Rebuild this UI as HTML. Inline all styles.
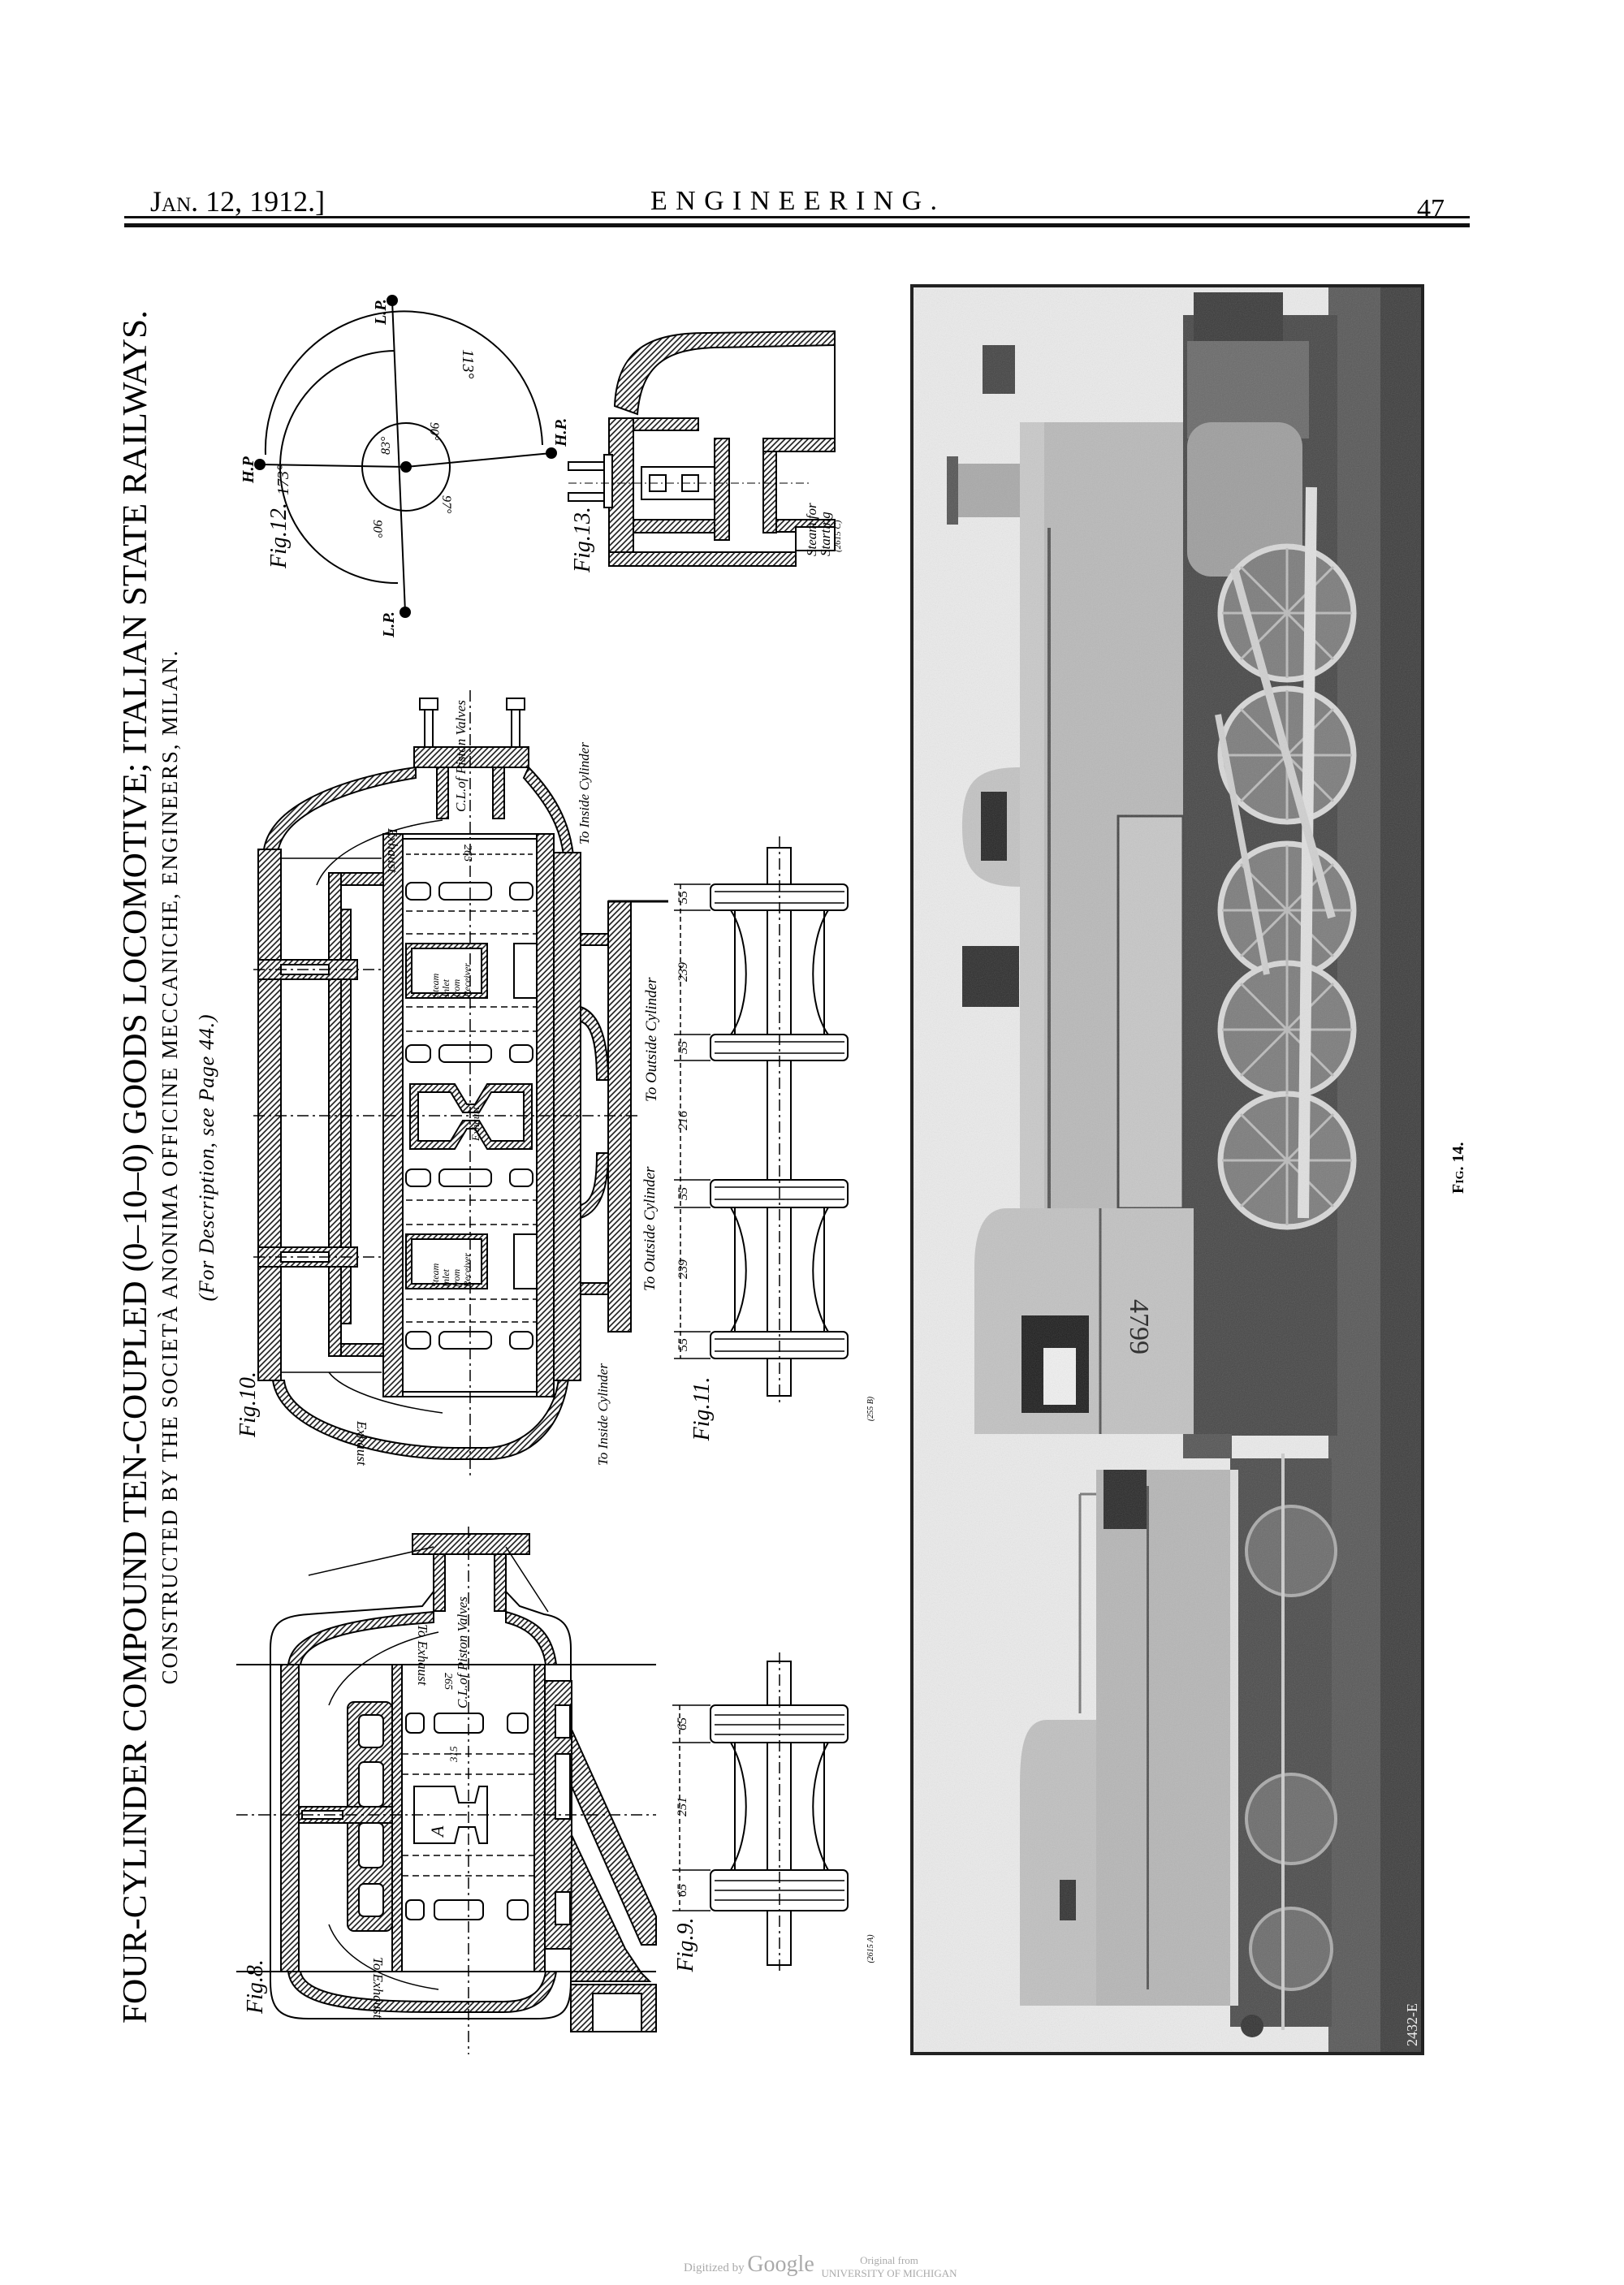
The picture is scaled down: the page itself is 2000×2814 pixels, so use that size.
<!DOCTYPE html>
<html><head><meta charset="utf-8"><style>
html,body{margin:0;padding:0;background:#fff}
svg{display:block}
text{font-family:"Liberation Serif",serif}
.it{font-style:italic}
</style></head><body>
<svg width="2000" height="2814" viewBox="0 0 2000 2814" xmlns="http://www.w3.org/2000/svg">
<defs>
<pattern id="h" width="5" height="5" patternUnits="userSpaceOnUse" patternTransform="rotate(45)">
<rect width="5" height="5" fill="#fff"/><line x1="1" y1="0" x2="1" y2="5" stroke="#111" stroke-width="1.6"/></pattern>
<filter id="n" x="0" y="0" width="100%" height="100%"><feTurbulence type="fractalNoise" baseFrequency="0.9" numOctaves="2" seed="3"/><feColorMatrix type="saturate" values="0"/><feComponentTransfer><feFuncA type="linear" slope="0.22"/></feComponentTransfer></filter>
<clipPath id="pc"><rect x="1123" y="352" width="629" height="2177"/></clipPath>
</defs>

<!-- Header -->
<text x="185" y="260" font-size="36" style="font-variant:small-caps">Jan. 12, 1912.]</text>
<text x="801" y="258" font-size="34" textLength="353" lengthAdjust="spacing">ENGINEERING.</text>
<text x="1745" y="268" font-size="34">47</text>
<rect x="153" y="266" width="1657" height="3" fill="#111"/>
<rect x="153" y="275" width="1657" height="5" fill="#111"/>

<!-- Title block (rotated) -->
<text transform="translate(180,1437) rotate(-90)" font-size="42" text-anchor="middle" textLength="2110" lengthAdjust="spacingAndGlyphs">FOUR-CYLINDER   COMPOUND   TEN-COUPLED   (0–10–0)   GOODS   LOCOMOTIVE;   ITALIAN   STATE   RAILWAYS.</text>
<text transform="translate(218,1438) rotate(-90)" font-size="27" text-anchor="middle" textLength="1273" lengthAdjust="spacing">CONSTRUCTED BY THE SOCIETÀ ANONIMA OFFICINE MECCANICHE, ENGINEERS, MILAN.</text>
<text class="it" transform="translate(263,1426) rotate(-90)" font-size="26" text-anchor="middle" textLength="353" lengthAdjust="spacing">(For Description, see Page 44.)</text>

<!-- Fig 12 -->
<g stroke="#000" fill="none" stroke-width="2">
<circle cx="500" cy="575" r="54"/>
<line x1="483" y1="370" x2="499" y2="754"/>
<line x1="320" y1="572" x2="500" y2="575"/>
<line x1="500" y1="575" x2="679" y2="558"/>
<path d="M327,560 A170,170 0 0 1 668,548"/>
<path d="M486,432 A143,143 0 0 0 490,718"/>
</g>
<g fill="#000"><circle cx="500" cy="575" r="7"/><circle cx="483" cy="370" r="7"/><circle cx="320" cy="572" r="7"/><circle cx="679" cy="558" r="7"/><circle cx="499" cy="754" r="7"/></g>
<g font-size="20" class="it">
<text transform="translate(475,400) rotate(-90)" font-weight="bold">L.P.</text>
<text transform="translate(697,550) rotate(-90)" font-weight="bold">H.P.</text>
<text transform="translate(312,595) rotate(-90)" font-weight="bold">H.P</text>
<text transform="translate(485,785) rotate(-90)" font-weight="bold">L.P.</text>
<text transform="translate(570,430) rotate(90)">113°</text>
<text transform="translate(355,610) rotate(-90)">173°</text>
<text transform="translate(480,560) rotate(-90)" font-size="16">83°</text>
<text transform="translate(530,520) rotate(90)" font-size="16">90°</text>
<text transform="translate(460,640) rotate(90)" font-size="16">90°</text>
<text transform="translate(545,610) rotate(90)" font-size="16">97°</text>
<text transform="translate(352,700) rotate(-90)" font-size="28">Fig.12.</text>
</g>

<!-- Fig 13 -->
<g stroke="#000" stroke-width="2">
<path d="M757,500 C760,430 800,410 870,410 L1028,408 L1028,425 L880,428 C820,430 790,450 785,510 Z" fill="url(#h)"/>
<line x1="1028" y1="425" x2="1028" y2="540" fill="none"/>
<rect x="750" y="515" width="30" height="182" fill="url(#h)"/>
<rect x="750" y="680" width="230" height="17" fill="url(#h)"/>
<rect x="780" y="515" width="80" height="15" fill="url(#h)"/>
<rect x="880" y="540" width="18" height="125" fill="url(#h)"/>
<rect x="940" y="540" width="88" height="16" fill="url(#h)"/>
<rect x="940" y="556" width="16" height="100" fill="url(#h)"/>
<rect x="780" y="640" width="100" height="16" fill="url(#h)"/>
<rect x="956" y="640" width="72" height="15" fill="url(#h)"/>
<rect x="700" y="569" width="44" height="10" fill="#fff"/>
<rect x="700" y="607" width="44" height="10" fill="#fff"/>
<rect x="744" y="560" width="10" height="65" fill="#fff"/>
<rect x="790" y="575" width="90" height="40" fill="#fff"/>
<rect x="800" y="585" width="20" height="20" fill="#fff"/>
<rect x="840" y="585" width="20" height="20" fill="#fff"/>
<rect x="980" y="649" width="48" height="29" fill="#fff"/>
</g>
<line x1="700" y1="595" x2="1000" y2="595" stroke="#000" stroke-dasharray="10,4,2,4"/>
<g class="it" font-size="17">
<text transform="translate(1005,685) rotate(-90)">Steam for</text>
<text transform="translate(1022,685) rotate(-90)">Starting</text>
<text transform="translate(1035,680) rotate(-90)" font-size="11">(2615 C)</text>
<text transform="translate(726,705) rotate(-90)" font-size="28">Fig.13.</text>
</g>

<!-- Fig 10 -->
<g stroke="#000" stroke-width="2">
<path d="M325,1046 C335,985 440,955 512,945 L512,958 C450,968 350,995 342,1050 Z" fill="url(#h)"/>
<path d="M336,1700 C345,1765 470,1797 559,1797 L604,1797 C650,1795 690,1765 700,1698 L688,1698 C682,1750 640,1782 600,1783 L560,1783 C480,1783 355,1755 350,1700 Z" fill="url(#h)"/>
<path d="M651,945 C690,985 702,1020 706,1053 L694,1053 C690,1022 678,995 645,958 Z" fill="url(#h)"/>
<rect x="510" y="920" width="141" height="25" fill="url(#h)"/>
<rect x="538" y="945" width="14" height="63" fill="url(#h)"/>
<rect x="607" y="945" width="14" height="63" fill="url(#h)"/>
<rect x="523" y="865" width="10" height="55" fill="#fff"/>
<rect x="517" y="860" width="22" height="14" fill="#fff"/>
<rect x="630" y="865" width="10" height="55" fill="#fff"/>
<rect x="624" y="860" width="22" height="14" fill="#fff"/>
<rect x="318" y="1046" width="28" height="654" fill="url(#h)"/>
<rect x="472" y="1027" width="24" height="693" fill="url(#h)"/>
<rect x="661" y="1027" width="21" height="693" fill="url(#h)"/>
<rect x="496" y="1027" width="165" height="6" fill="#fff"/>
<rect x="496" y="1714" width="165" height="6" fill="#fff"/>
<rect x="405" y="1075" width="15" height="595" fill="url(#h)"/>
<rect x="420" y="1075" width="52" height="15" fill="url(#h)"/>
<rect x="420" y="1655" width="52" height="15" fill="url(#h)"/>
<rect x="420" y="1120" width="12" height="510" fill="url(#h)"/>
<rect x="318" y="1182" width="122" height="24" fill="url(#h)"/>
<rect x="318" y="1536" width="122" height="24" fill="url(#h)"/>
<rect x="346" y="1188" width="59" height="12" fill="#fff"/>
<rect x="346" y="1542" width="59" height="12" fill="#fff"/>
<rect x="682" y="1050" width="33" height="650" fill="url(#h)"/>
<rect x="749" y="1110" width="28" height="530" fill="url(#h)"/>
<rect x="715" y="1150" width="34" height="14" fill="url(#h)"/>
<rect x="715" y="1580" width="34" height="14" fill="url(#h)"/>
<path d="M715,1240 C745,1250 749,1300 749,1330 L735,1330 C735,1290 730,1262 715,1258 Z" fill="url(#h)"/>
<path d="M715,1500 C745,1490 749,1450 749,1420 L735,1420 C735,1460 730,1480 715,1484 Z" fill="url(#h)"/>
<rect x="633" y="1162" width="28" height="67" fill="#fff"/>
<rect x="633" y="1520" width="28" height="67" fill="#fff"/>
<rect x="500" y="1162" width="100" height="67" fill="url(#h)"/>
<rect x="507" y="1168" width="86" height="55" fill="#fff"/>
<rect x="500" y="1520" width="100" height="67" fill="url(#h)"/>
<rect x="507" y="1526" width="86" height="55" fill="#fff"/>
<path d="M505,1335 L560,1335 L575,1360 L585,1360 L600,1335 L655,1335 L655,1415 L600,1415 L585,1390 L575,1390 L560,1415 L505,1415 Z" fill="url(#h)"/>
<path d="M515,1345 L555,1345 L570,1370 L590,1370 L605,1345 L645,1345 L645,1405 L605,1405 L590,1380 L570,1380 L555,1405 L515,1405 Z" fill="#fff"/>
<g fill="#fff">
<rect x="500" y="1087" width="30" height="21" rx="7"/><rect x="541" y="1087" width="64" height="21" rx="7"/><rect x="628" y="1087" width="28" height="21" rx="7"/>
<rect x="500" y="1287" width="30" height="21" rx="7"/><rect x="541" y="1287" width="64" height="21" rx="7"/><rect x="628" y="1287" width="28" height="21" rx="7"/>
<rect x="500" y="1440" width="30" height="21" rx="7"/><rect x="541" y="1440" width="64" height="21" rx="7"/><rect x="628" y="1440" width="28" height="21" rx="7"/>
<rect x="500" y="1640" width="30" height="21" rx="7"/><rect x="541" y="1640" width="64" height="21" rx="7"/><rect x="628" y="1640" width="28" height="21" rx="7"/>
</g>
</g>
<g stroke="#000" stroke-width="1.5" fill="none">
<line x1="579" y1="850" x2="579" y2="1820" stroke-dasharray="14,5,3,5"/>
<line x1="312" y1="1374" x2="790" y2="1374" stroke-dasharray="14,5,3,5"/>
<line x1="312" y1="1194" x2="470" y2="1194" stroke-dasharray="14,5,3,5"/>
<line x1="312" y1="1548" x2="470" y2="1548" stroke-dasharray="14,5,3,5"/>
<line x1="500" y1="1122" x2="660" y2="1122" stroke-dasharray="8,5"/>
<line x1="500" y1="1150" x2="660" y2="1150" stroke-dasharray="8,5"/>
<line x1="500" y1="1240" x2="660" y2="1240" stroke-dasharray="8,5"/>
<line x1="500" y1="1270" x2="660" y2="1270" stroke-dasharray="8,5"/>
<line x1="500" y1="1478" x2="660" y2="1478" stroke-dasharray="8,5"/>
<line x1="500" y1="1508" x2="660" y2="1508" stroke-dasharray="8,5"/>
<line x1="500" y1="1600" x2="660" y2="1600" stroke-dasharray="8,5"/>
<line x1="500" y1="1628" x2="660" y2="1628" stroke-dasharray="8,5"/>
<line x1="500" y1="1052" x2="660" y2="1052" stroke-dasharray="6,4"/>
<line x1="749" y1="1110" x2="823" y2="1110" stroke-width="3"/>
<line x1="346" y1="1057" x2="470" y2="1057"/>
<line x1="346" y1="1690" x2="470" y2="1690"/>
<path d="M545,1010 C470,1020 405,1050 390,1090"/>
<path d="M545,1740 C470,1730 420,1710 405,1690"/>
</g>
<g class="it" font-size="17">
<text transform="translate(573,1000) rotate(-90)">C.L.of Piston Valves</text>
<text transform="translate(725,1040) rotate(-90)">To Inside Cylinder</text>
<text transform="translate(808,1357) rotate(-90)" font-size="19">To Outside Cylinder</text>
<text transform="translate(806,1590) rotate(-90)" font-size="19">To Outside Cylinder</text>
<text transform="translate(748,1805) rotate(-90)">To Inside Cylinder</text>
<text transform="translate(478,1020) rotate(90)">Exhaust</text>
<text transform="translate(440,1750) rotate(90)">Exhaust</text>
<text transform="translate(572,1040) rotate(90)" font-size="14">265</text>
<text transform="translate(540,1228) rotate(-90)" font-size="12">Steam</text>
<text transform="translate(553,1228) rotate(-90)" font-size="12">Inlet</text>
<text transform="translate(566,1228) rotate(-90)" font-size="12">from</text>
<text transform="translate(579,1228) rotate(-90)" font-size="12">Receiver</text>
<text transform="translate(540,1585) rotate(-90)" font-size="12">Steam</text>
<text transform="translate(553,1585) rotate(-90)" font-size="12">Inlet</text>
<text transform="translate(566,1585) rotate(-90)" font-size="12">from</text>
<text transform="translate(579,1585) rotate(-90)" font-size="12">Receiver</text>
<text transform="translate(590,1405) rotate(-90)" font-size="13">Exhaust</text>
<text transform="translate(314,1770) rotate(-90)" font-size="28">Fig.10.</text>
</g>

<!-- Fig 11 -->
<g stroke="#000" stroke-width="2" fill="#fff">
<rect x="945" y="1044" width="29" height="675"/>
<path d="M900,1121 C925,1160 925,1240 900,1274 M1020,1121 C995,1160 995,1240 1020,1274" fill="none"/>
<path d="M900,1487 C925,1530 925,1600 900,1640 M1020,1487 C995,1530 995,1600 1020,1640" fill="none"/>
<line x1="905" y1="1121" x2="905" y2="1274"/><line x1="1015" y1="1121" x2="1015" y2="1274"/>
<line x1="905" y1="1487" x2="905" y2="1640"/><line x1="1015" y1="1487" x2="1015" y2="1640"/>
<rect x="875" y="1089" width="169" height="32" rx="6"/><rect x="875" y="1274" width="169" height="32" rx="6"/>
<rect x="875" y="1453" width="169" height="34" rx="6"/><rect x="875" y="1640" width="169" height="33" rx="6"/>
</g>
<g stroke="#000" stroke-width="1.5">
<line x1="880" y1="1098" x2="1040" y2="1098"/><line x1="880" y1="1112" x2="1040" y2="1112"/>
<line x1="880" y1="1283" x2="1040" y2="1283"/><line x1="880" y1="1297" x2="1040" y2="1297"/>
<line x1="880" y1="1462" x2="1040" y2="1462"/><line x1="880" y1="1477" x2="1040" y2="1477"/>
<line x1="880" y1="1649" x2="1040" y2="1649"/><line x1="880" y1="1664" x2="1040" y2="1664"/>
<line x1="838" y1="1089" x2="838" y2="1673" stroke-dasharray="6,4"/>
<line x1="830" y1="1089" x2="875" y2="1089"/><line x1="830" y1="1121" x2="875" y2="1121"/>
<line x1="830" y1="1274" x2="875" y2="1274"/><line x1="830" y1="1306" x2="875" y2="1306"/>
<line x1="830" y1="1453" x2="875" y2="1453"/><line x1="830" y1="1487" x2="875" y2="1487"/>
<line x1="830" y1="1640" x2="875" y2="1640"/><line x1="830" y1="1673" x2="875" y2="1673"/>
<line x1="960" y1="1030" x2="960" y2="1730" stroke-dasharray="14,5,3,5"/>
</g>
<g class="it" font-size="16" text-anchor="middle">
<text transform="translate(846,1105) rotate(-90)">55</text>
<text transform="translate(846,1197) rotate(-90)">239</text>
<text transform="translate(846,1290) rotate(-90)">55</text>
<text transform="translate(846,1380) rotate(-90)">216</text>
<text transform="translate(846,1470) rotate(-90)">55</text>
<text transform="translate(846,1563) rotate(-90)">239</text>
<text transform="translate(846,1656) rotate(-90)">55</text>
<text transform="translate(873,1735) rotate(-90)" font-size="28">Fig.11.</text>
<text transform="translate(1075,1735) rotate(-90)" font-size="10">(255 B)</text>
</g>

<!-- Fig 8 -->
<g stroke="#000" stroke-width="2">
<path d="M333,2030 C333,2000 345,1990 380,1988 L520,1978 L534,1960 L534,1914 L508,1914 L508,1889 L652,1889 L652,1914 L623,1914 L623,1960 L640,1978 L670,1988 C695,1992 703,2005 703,2030 L703,2440 C703,2480 690,2486 660,2486 L380,2486 C345,2486 333,2475 333,2440 Z" fill="#fff"/>
<rect x="508" y="1889" width="144" height="25" fill="url(#h)"/>
<rect x="534" y="1914" width="14" height="70" fill="url(#h)"/>
<rect x="609" y="1914" width="14" height="70" fill="url(#h)"/>
<path d="M355,2050 C360,2010 420,1995 534,1985 L534,1998 C430,2005 375,2020 370,2050 Z" fill="url(#h)"/>
<path d="M623,1985 C660,1995 680,2010 685,2050 L672,2050 C668,2020 650,2005 623,1998 Z" fill="url(#h)"/>
<path d="M355,2428 C360,2468 420,2478 534,2478 L620,2478 C660,2478 680,2460 685,2428 L672,2428 C668,2455 650,2465 620,2465 L534,2465 C430,2465 375,2455 370,2428 Z" fill="url(#h)"/>
<rect x="346" y="2050" width="22" height="378" fill="url(#h)"/>
<rect x="483" y="2050" width="12" height="378" fill="url(#h)"/>
<rect x="658" y="2050" width="13" height="378" fill="url(#h)"/>
<rect x="428" y="2096" width="55" height="282" fill="url(#h)" rx="8"/>
<rect x="442" y="2112" width="30" height="40" fill="#fff" rx="6"/>
<rect x="442" y="2170" width="30" height="55" fill="#fff" rx="6"/>
<rect x="442" y="2245" width="30" height="55" fill="#fff" rx="6"/>
<rect x="442" y="2320" width="30" height="40" fill="#fff" rx="6"/>
<rect x="368" y="2225" width="115" height="20" fill="url(#h)"/>
<rect x="372" y="2230" width="50" height="10" fill="#fff"/>
<rect x="671" y="2070" width="33" height="330" fill="url(#h)"/>
<rect x="684" y="2100" width="18" height="40" fill="#fff"/>
<rect x="684" y="2160" width="18" height="80" fill="#fff"/>
<rect x="684" y="2330" width="18" height="40" fill="#fff"/>
<path d="M704,2130 L808,2360 L808,2395 L790,2395 L704,2200 Z" fill="url(#h)"/>
<path d="M704,2260 L770,2400 L790,2430 L800,2440 L703,2440 Z" fill="url(#h)"/>
<rect x="703" y="2444" width="105" height="58" fill="url(#h)"/>
<rect x="730" y="2455" width="60" height="47" fill="#fff"/>
<path d="M510,2200 L560,2200 L565,2220 L585,2220 L590,2200 L600,2200 L600,2270 L590,2270 L585,2250 L565,2250 L560,2270 L510,2270 Z" fill="#fff"/>
<g fill="#fff"><rect x="500" y="2110" width="22" height="24" rx="6"/><rect x="535" y="2110" width="60" height="24" rx="6"/><rect x="625" y="2110" width="25" height="24" rx="6"/>
<rect x="500" y="2340" width="22" height="24" rx="6"/><rect x="535" y="2340" width="60" height="24" rx="6"/><rect x="625" y="2340" width="25" height="24" rx="6"/></g>
</g>
<g stroke="#000" stroke-width="1.5" fill="none">
<line x1="291" y1="2050" x2="808" y2="2050" stroke-width="2"/>
<line x1="291" y1="2428" x2="808" y2="2428" stroke-width="2"/>
<line x1="291" y1="2235" x2="808" y2="2235" stroke-dasharray="14,5,3,5"/>
<line x1="577" y1="1880" x2="577" y2="2530" stroke-dasharray="14,5,3,5"/>
<line x1="495" y1="2160" x2="658" y2="2160" stroke-dasharray="8,5"/>
<line x1="495" y1="2185" x2="658" y2="2185" stroke-dasharray="8,5"/>
<line x1="495" y1="2285" x2="658" y2="2285" stroke-dasharray="8,5"/>
<line x1="495" y1="2310" x2="658" y2="2310" stroke-dasharray="8,5"/>
<line x1="380" y1="1940" x2="534" y2="1905"/>
<line x1="623" y1="1905" x2="675" y2="1985"/>
<path d="M540,2010 C470,2025 420,2060 405,2100"/>
<path d="M540,2450 C470,2440 420,2410 405,2370"/>
</g>
<g class="it" font-size="17">
<text transform="translate(575,2104) rotate(-90)">C.L.of Piston Valves</text>
<text transform="translate(515,2000) rotate(90)">To Exhaust</text>
<text transform="translate(460,2410) rotate(90)">To Exhaust</text>
<text transform="translate(548,2060) rotate(90)" font-size="14">265</text>
<text transform="translate(546,2262) rotate(-90)" font-size="22">A</text>
<text transform="translate(563,2170) rotate(-90)" font-size="13">315</text>
<text transform="translate(323,2480) rotate(-90)" font-size="28">Fig.8.</text>
</g>

<!-- Fig 9 -->
<g stroke="#000" stroke-width="2" fill="#fff">
<rect x="945" y="2046" width="29" height="374"/>
<path d="M900,2146 C925,2190 925,2260 900,2303 M1020,2146 C995,2190 995,2260 1020,2303" fill="none"/>
<line x1="905" y1="2146" x2="905" y2="2303"/><line x1="1015" y1="2146" x2="1015" y2="2303"/>
<rect x="875" y="2100" width="169" height="46" rx="6"/><rect x="875" y="2303" width="169" height="50" rx="6"/>
</g>
<g stroke="#000" stroke-width="1.5">
<line x1="880" y1="2112" x2="1040" y2="2112"/><line x1="880" y1="2124" x2="1040" y2="2124"/><line x1="880" y1="2136" x2="1040" y2="2136"/>
<line x1="880" y1="2316" x2="1040" y2="2316"/><line x1="880" y1="2328" x2="1040" y2="2328"/><line x1="880" y1="2340" x2="1040" y2="2340"/>
<line x1="837" y1="2100" x2="837" y2="2353" stroke-dasharray="6,4"/>
<line x1="828" y1="2100" x2="875" y2="2100"/><line x1="828" y1="2146" x2="875" y2="2146"/>
<line x1="828" y1="2303" x2="875" y2="2303"/><line x1="828" y1="2353" x2="875" y2="2353"/>
<line x1="960" y1="2035" x2="960" y2="2430" stroke-dasharray="14,5,3,5"/>
</g>
<g class="it" font-size="16" text-anchor="middle">
<text transform="translate(845,2123) rotate(-90)">65</text>
<text transform="translate(845,2225) rotate(-90)">251</text>
<text transform="translate(845,2328) rotate(-90)">65</text>
<text transform="translate(853,2395) rotate(-90)" font-size="28">Fig.9.</text>
<text transform="translate(1075,2400) rotate(-90)" font-size="10">(2615 A)</text>
</g>

<!-- Photo Fig 14 -->
<g clip-path="url(#pc)">
<rect x="1123" y="352" width="629" height="2177" fill="#ebebeb"/>
<rect x="1636" y="352" width="116" height="2177" fill="#585858"/>
<rect x="1700" y="352" width="52" height="2177" fill="#3e3e3e"/>
<rect x="1457" y="388" width="190" height="1380" fill="#474747"/>
<rect x="1515" y="1796" width="125" height="700" fill="#4c4c4c"/>
<rect x="1462" y="420" width="150" height="120" fill="#6a6a6a"/>
<rect x="1256" y="520" width="201" height="968" fill="#b9b9b9"/>
<rect x="1256" y="520" width="30" height="968" fill="#c9c9c9"/>
<rect x="1290" y="650" width="4" height="840" fill="#555"/>
<rect x="1377" y="1005" width="80" height="483" fill="#c7c7c7" stroke="#444" stroke-width="3"/>
<rect x="1171" y="571" width="85" height="66" fill="#a9a9a9"/>
<rect x="1166" y="562" width="14" height="84" fill="#555"/>
<path d="M1256,945 C1200,945 1185,965 1185,1018 C1185,1070 1200,1092 1256,1092 Z" fill="#c3c3c3"/>
<rect x="1208" y="975" width="32" height="85" fill="#262626"/>
<rect x="1185" y="1165" width="70" height="75" fill="#2e2e2e"/>
<rect x="1210" y="425" width="40" height="60" fill="#444"/>
<rect x="1462" y="520" width="142" height="190" rx="30" fill="#9e9e9e"/>
<path d="M1470,1488 L1240,1488 C1210,1488 1200,1520 1200,1560 L1200,1766 L1470,1766 Z" fill="#c2c2c2"/>
<rect x="1258" y="1620" width="83" height="120" fill="#1e1e1e"/>
<rect x="1285" y="1660" width="40" height="70" fill="#f0f0f0"/>
<line x1="1355" y1="1488" x2="1355" y2="1766" stroke="#555" stroke-width="3"/>
<text transform="translate(1392,1600) rotate(90)" font-size="34" fill="#222" font-family="Liberation Sans,sans-serif">4799</text>
<rect x="1457" y="1766" width="60" height="30" fill="#555"/>
<g fill="#7c7c7c" stroke="#d8d8d8" stroke-width="7">
<circle cx="1585" cy="755" r="82"/><circle cx="1585" cy="930" r="82"/><circle cx="1585" cy="1121" r="82"/><circle cx="1585" cy="1268" r="82"/><circle cx="1585" cy="1429" r="82"/>
</g>
<g stroke="#bbb" stroke-width="3">
<path d="M1505,755 H1665 M1585,675 V835 M1528,698 L1642,812 M1642,698 L1528,812"/>
<path d="M1505,930 H1665 M1585,850 V1010 M1528,873 L1642,987 M1642,873 L1528,987"/>
<path d="M1505,1121 H1665 M1585,1041 V1201 M1528,1064 L1642,1178 M1642,1064 L1528,1178"/>
<path d="M1505,1268 H1665 M1585,1188 V1348 M1528,1211 L1642,1325 M1642,1211 L1528,1325"/>
<path d="M1505,1429 H1665 M1585,1349 V1509 M1528,1372 L1642,1486 M1642,1372 L1528,1486"/>
</g>
<line x1="1615" y1="600" x2="1605" y2="1500" stroke="#e0e0e0" stroke-width="14"/>
<line x1="1520" y1="700" x2="1640" y2="1130" stroke="#d0d0d0" stroke-width="10"/>
<line x1="1500" y1="880" x2="1560" y2="1200" stroke="#cfcfcf" stroke-width="8"/>
<rect x="1470" y="360" width="110" height="60" fill="#3a3a3a"/>
<rect x="1350" y="1810" width="165" height="660" fill="#b6b6b6"/>
<rect x="1359" y="1810" width="53" height="73" fill="#2a2a2a"/>
<rect x="1412" y="1830" width="3" height="620" fill="#555"/>
<path d="M1350,2118 L1290,2118 C1262,2118 1256,2150 1256,2200 L1256,2470 L1350,2470 Z" fill="#c0c0c0"/>
<rect x="1305" y="2315" width="20" height="50" fill="#333"/>
<path d="M1330,1840 L1350,1840 M1330,1840 L1330,2110" stroke="#777" stroke-width="3" fill="none"/>
<rect x="1515" y="1810" width="10" height="660" fill="#e0e0e0"/>
<g fill="#6c6c6c" stroke="#aaa" stroke-width="4"><circle cx="1590" cy="1910" r="55"/><circle cx="1590" cy="2240" r="55"/><circle cx="1590" cy="2400" r="50"/></g>
<line x1="1580" y1="1790" x2="1580" y2="2500" stroke="#ccc" stroke-width="4"/>
<circle cx="1542" cy="2495" r="14" fill="#333"/>
<rect x="1123" y="352" width="629" height="2177" filter="url(#n)"/>
<text transform="translate(1745,2520) rotate(-90)" font-size="18" fill="#eee" font-family="Liberation Sans,sans-serif">2432-E</text>
</g>
<rect x="1123" y="352" width="629" height="2177" fill="none" stroke="#222" stroke-width="4"/>
<text transform="translate(1802,1470) rotate(-90)" font-size="20" font-weight="bold" style="font-variant:small-caps">Fig. 14.</text>

<text x="842" y="2797" font-size="15" fill="#aaa" font-family="Liberation Sans,sans-serif">Digitized by <tspan font-size="28" font-family="Liberation Serif,serif">Google</tspan></text>
<text x="1095" y="2788" font-size="13" fill="#aaa" text-anchor="middle" font-family="Liberation Sans,sans-serif">Original from</text>
<text x="1095" y="2804" font-size="13" fill="#aaa" text-anchor="middle" font-family="Liberation Sans,sans-serif">UNIVERSITY OF MICHIGAN</text>
</svg>
</body></html>
